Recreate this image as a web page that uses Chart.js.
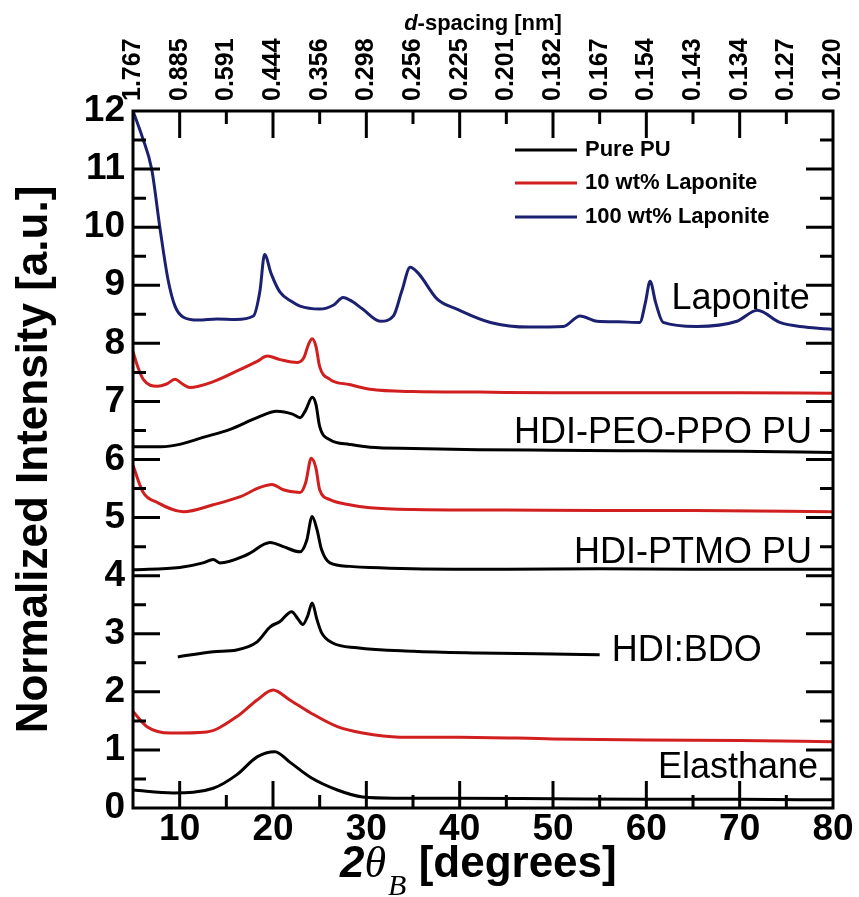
<!DOCTYPE html>
<html><head><meta charset="utf-8">
<script src="https://cdn.jsdelivr.net/npm/chart.js@4.4.1/dist/chart.umd.min.js"></script>
<style>html,body{margin:0;padding:0;background:#fff}canvas{display:block}</style>
</head><body><canvas id="c" width="859" height="897"></canvas>
<script>
// ---------- data (2θ in degrees, normalized intensity) ----------
const bottomTickValues = [10, 20, 30, 40, 50, 60, 70, 80];
const topTickValues = [5, 10, 15, 20, 25, 30, 35, 40, 45, 50, 55, 60, 65, 70, 75, 80];
const dSpacingLabels = ["1.767", "0.885", "0.591", "0.444", "0.356", "0.298", "0.256", "0.225",
  "0.201", "0.182", "0.167", "0.154", "0.143", "0.134", "0.127", "0.120"];
const yTickValues = [0, 1, 2, 3, 4, 5, 6, 7, 8, 9, 10, 11, 12];

const laponiteX = [5, 6, 7, 7.9, 8.75, 9.5, 10.4, 12, 14, 16, 17.9, 18.6, 19.1, 19.8, 20.75, 22, 22.9, 25, 26.5, 27.5, 28.5, 29.6, 31.5, 32.9, 33.8, 34.7, 35.6, 37.6, 39.7, 43.3, 47.5, 51.1, 52.9, 54.7, 57, 59.3, 59.9, 60.4, 61, 61.8, 65.4, 69.7, 71.9, 74.3, 77, 80];
const laponiteY = [12, 11.55, 11.0, 9.97, 9.1, 8.64, 8.45, 8.40, 8.42, 8.41, 8.47, 8.9, 9.53, 9.2, 8.88, 8.72, 8.64, 8.59, 8.66, 8.79, 8.72, 8.59, 8.38, 8.47, 8.9, 9.31, 9.2, 8.76, 8.59, 8.36, 8.28, 8.29, 8.47, 8.38, 8.37, 8.36, 8.7, 9.07, 8.7, 8.36, 8.29, 8.38, 8.57, 8.36, 8.28, 8.24];

const peoLapX = [5, 5.5, 6.1, 7.6, 8.6, 9.5, 10.3, 11.1, 13.6, 16.1, 18.3, 19.4, 20.75, 22.6, 23.3, 23.8, 24.2, 24.6, 25, 26.1, 28.2, 30.4, 35, 42, 50, 60, 70, 80];
const peoLapY = [7.86, 7.6, 7.38, 7.26, 7.3, 7.38, 7.3, 7.24, 7.34, 7.52, 7.69, 7.78, 7.72, 7.67, 7.75, 7.98, 8.08, 7.95, 7.6, 7.38, 7.29, 7.21, 7.17, 7.16, 7.15, 7.15, 7.15, 7.14];

const peoPureX = [5, 8, 10, 12.5, 15.4, 18.3, 20.4, 22.1, 22.9, 23.5, 24.2, 24.6, 25, 26.1, 28.2, 30.4, 35, 42, 50, 60, 70, 80];
const peoPureY = [6.22, 6.22, 6.26, 6.38, 6.52, 6.72, 6.83, 6.78, 6.72, 6.85, 7.07, 6.95, 6.57, 6.34, 6.26, 6.21, 6.19, 6.17, 6.16, 6.15, 6.14, 6.12];

const ptmoLapX = [5, 6.1, 7.6, 10.4, 13.6, 16.5, 18.6, 19.9, 21.1, 22.9, 23.5, 24.1, 24.6, 25, 26.1, 28.2, 30.4, 35, 45, 55, 65, 80];
const ptmoLapY = [5.9, 5.43, 5.26, 5.10, 5.22, 5.36, 5.52, 5.57, 5.48, 5.43, 5.6, 6.02, 5.85, 5.48, 5.31, 5.22, 5.17, 5.14, 5.13, 5.12, 5.12, 5.10];

const ptmoPureX = [5, 10, 12.5, 13.6, 14.3, 17.2, 19.7, 21.1, 22.9, 23.6, 24.2, 24.7, 25.2, 26.1, 28.2, 30.4, 35, 45, 55, 65, 80];
const ptmoPureY = [4.1, 4.14, 4.22, 4.28, 4.22, 4.36, 4.57, 4.50, 4.41, 4.6, 5.02, 4.8, 4.45, 4.22, 4.16, 4.14, 4.12, 4.11, 4.12, 4.11, 4.11];

const bdoX = [9.8, 13.6, 16.1, 18.3, 19.7, 20.75, 22, 22.7, 23.2, 23.7, 24.2, 24.7, 25.2, 26.4, 29, 35, 42, 50, 55];
const bdoY = [2.60, 2.69, 2.72, 2.86, 3.12, 3.21, 3.38, 3.25, 3.16, 3.3, 3.53, 3.25, 3.02, 2.84, 2.76, 2.70, 2.67, 2.65, 2.64];

const elaLapX = [5, 6.5, 9, 12.9, 16.1, 18.3, 20, 21.8, 24, 26.9, 29.6, 33.6, 40, 50, 60, 70, 80];
const elaLapY = [1.66, 1.40, 1.29, 1.31, 1.57, 1.86, 2.03, 1.86, 1.64, 1.40, 1.29, 1.22, 1.22, 1.19, 1.17, 1.16, 1.14];

const elaPureX = [5, 9.3, 13.6, 16.1, 18.3, 20.2, 21.8, 24, 26.9, 29.6, 33, 40, 50, 60, 70, 80];
const elaPureY = [0.31, 0.26, 0.34, 0.57, 0.88, 0.97, 0.79, 0.53, 0.31, 0.19, 0.17, 0.17, 0.16, 0.15, 0.15, 0.14];

const legendLabels = ["Pure PU", "10 wt% Laponite", "100 wt% Laponite"];
const sampleNames = ["Laponite", "HDI-PEO-PPO PU", "HDI-PTMO PU", "HDI:BDO", "Elasthane"];

// ---------- styling ----------
const FONT = "'Liberation Sans', Arial, Helvetica, sans-serif";
const SERIF = "'Liberation Serif', 'Times New Roman', serif";
const BLACK = '#000000', RED = '#d11f1f', NAVY = '#1b2170';
const legendColors = [BLACK, RED, NAVY];
const TOP_FONT_SIZE = 25;

function pts(xs, ys) { return xs.map((x, i) => ({ x: x, y: ys[i] })); }
function ds(label, xs, ys, color) {
  return { label: label, data: pts(xs, ys), borderColor: color, backgroundColor: color,
    borderWidth: 3, pointRadius: 0, fill: false, cubicInterpolationMode: 'monotone' };
}

const datasets = [
  ds(legendLabels[2], laponiteX, laponiteY, NAVY),
  ds(legendLabels[1], peoLapX, peoLapY, RED),
  ds(legendLabels[0], peoPureX, peoPureY, BLACK),
  ds(legendLabels[1], ptmoLapX, ptmoLapY, RED),
  ds(legendLabels[0], ptmoPureX, ptmoPureY, BLACK),
  ds(legendLabels[0], bdoX, bdoY, BLACK),
  ds(legendLabels[1], elaLapX, elaLapY, RED),
  ds(legendLabels[0], elaPureX, elaPureY, BLACK)
];

// annotation anchors in data coordinates (2θ, intensity)
const annotations = [
  { text: sampleNames[0], x: 77.5, y: 8.59, align: 'right' },
  { text: sampleNames[1], x: 77.75, y: 6.29, align: 'right' },
  { text: sampleNames[2], x: 77.75, y: 4.22, align: 'right' },
  { text: sampleNames[3], x: 56.3, y: 2.53, align: 'left' },
  { text: sampleNames[4], x: 78.4, y: 0.52, align: 'right' }
];

const decor = {
  id: 'decor',
  afterDraw(chart) {
    const { ctx, chartArea: a, scales } = chart;
    const xs = scales.x, ys = scales.y;
    ctx.save();
    // frame
    ctx.strokeStyle = '#000'; ctx.lineWidth = 3; ctx.lineCap = 'butt';
    ctx.strokeRect(a.left, a.top, a.right - a.left, a.bottom - a.top);
    // inward ticks
    ctx.beginPath();
    for (let i = 0; i < topTickValues.length; i++) {
      const v = topTickValues[i];
      if (v <= xs.min || v >= xs.max) continue;
      const px = xs.getPixelForValue(v);
      const len = bottomTickValues.includes(v) ? 27 : 13;
      ctx.moveTo(px, a.bottom); ctx.lineTo(px, a.bottom - len);
      ctx.moveTo(px, a.top); ctx.lineTo(px, a.top + len);
    }
    for (let i = 0; i < yTickValues.length - 1; i++) {
      [yTickValues[i], (yTickValues[i] + yTickValues[i + 1]) / 2].forEach(v => {
        if (v <= ys.min || v >= ys.max) return;
        const py = ys.getPixelForValue(v);
        const len = Number.isInteger(v) ? 27 : 13;
        ctx.moveTo(a.left, py); ctx.lineTo(a.left + len, py);
        ctx.moveTo(a.right, py); ctx.lineTo(a.right - len, py);
      });
    }
    ctx.stroke();

    // sample annotations
    ctx.fillStyle = '#000';
    ctx.font = "36px " + FONT;
    ctx.textBaseline = 'alphabetic';
    annotations.forEach(an => {
      ctx.textAlign = an.align;
      ctx.fillText(an.text, xs.getPixelForValue(an.x), ys.getPixelForValue(an.y));
    });

    // legend
    ctx.font = "bold 22px " + FONT;
    ctx.textAlign = 'left'; ctx.textBaseline = 'middle';
    const ly = [150, 183, 217];
    legendLabels.forEach((lab, i) => {
      ctx.strokeStyle = legendColors[i]; ctx.lineWidth = 3;
      ctx.beginPath(); ctx.moveTo(515, ly[i]); ctx.lineTo(577, ly[i]); ctx.stroke();
      ctx.fillStyle = '#000';
      ctx.fillText(lab, 585, ly[i]);
    });

    // x title: 2θ_B [degrees]
    ctx.textBaseline = 'alphabetic'; ctx.textAlign = 'left';
    let tx = 340; const tb = 877;
    ctx.font = "italic bold 44px " + FONT; ctx.fillText("2", tx, tb); tx += ctx.measureText("2").width;
    ctx.font = "italic 44px " + SERIF; ctx.fillText("θ", tx, tb); tx += ctx.measureText("θ").width + 2;
    ctx.font = "italic 30px " + SERIF; ctx.fillText("B", tx, tb + 18); tx += ctx.measureText("B").width;
    ctx.font = "bold 44px " + FONT; ctx.fillText(" [degrees]", tx, tb);

    // top title: d-spacing [nm]
    ctx.font = "italic bold 22px " + FONT;
    const w1 = ctx.measureText("d").width;
    ctx.font = "bold 22px " + FONT;
    const w2 = ctx.measureText("-spacing [nm]").width;
    let sx = (a.left + a.right) / 2 - (w1 + w2) / 2;
    ctx.font = "italic bold 22px " + FONT; ctx.fillText("d", sx, 30);
    ctx.font = "bold 22px " + FONT; ctx.fillText("-spacing [nm]", sx + w1, 30);
    ctx.restore();
  }
};

new Chart(document.getElementById('c'), {
  type: 'line',
  data: { datasets: datasets },
  plugins: [decor],
  options: {
    responsive: false, animation: false, devicePixelRatio: 1,
    layout: { padding: { left: 0, right: 26, top: 0, bottom: 0 } },
    plugins: { legend: { display: false }, tooltip: { enabled: false } },
    scales: {
      x: {
        type: 'linear', position: 'bottom', min: 5, max: 80,
        grid: { display: false, drawTicks: false }, border: { display: false },
        afterBuildTicks: s => { s.ticks = bottomTickValues.map(v => ({ value: v })); },
        afterFit: s => { s.height = 89; },
        ticks: { color: '#000', padding: 0, maxRotation: 0, autoSkip: false,
          font: { family: FONT, size: 37, weight: 'bold' } }
      },
      x2: {
        type: 'linear', position: 'top', min: 5, max: 80,
        grid: { display: false, drawTicks: false }, border: { display: false },
        afterBuildTicks: s => { s.ticks = topTickValues.map(v => ({ value: v })); },
        afterFit: s => { s.height = 111; },
        ticks: { color: '#000', padding: 10, minRotation: 90, maxRotation: 90, autoSkip: false,
          labelOffset: TOP_FONT_SIZE * 1.2,
          font: { family: FONT, size: TOP_FONT_SIZE, weight: 'bold' },
          callback: (v, i) => dSpacingLabels[i] }
      },
      y: {
        type: 'linear', position: 'left', min: 0, max: 12,
        grid: { display: false, drawTicks: false }, border: { display: false },
        afterBuildTicks: s => { s.ticks = yTickValues.map(v => ({ value: v })); },
        afterFit: s => { s.width = 133; },
        ticks: { color: '#000', padding: 8, font: { family: FONT, size: 37, weight: 'bold' } },
        title: { display: true, text: 'Normalized Intensity [a.u.]', color: '#000',
          padding: { top: 8, bottom: 0 },
          font: { family: FONT, size: 44, weight: 'bold' } }
      }
    }
  }
});
</script></body></html>
